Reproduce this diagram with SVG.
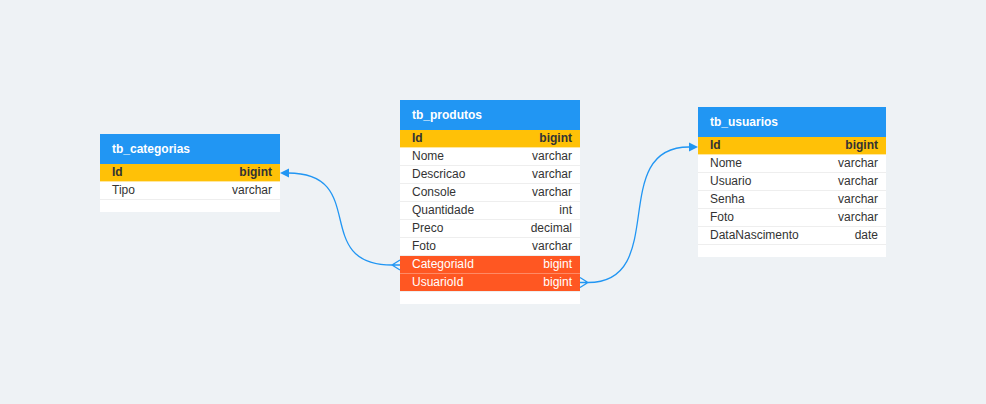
<svg xmlns="http://www.w3.org/2000/svg" width="986" height="404" viewBox="0 0 986 404">
<style>
text{font-family:"Liberation Sans",Arial,sans-serif;font-size:12px;}
.bg{fill:#EEF2F5;}
.body{fill:#FFFFFF;}
.hdr{fill:#2196F3;}
.htxt{fill:#FFFFFF;font-weight:bold;}
.pk{fill:#FFC107;}
.fk{fill:#FF5722;}
.t{fill:#333333;}
.pkt{fill:#333333;font-weight:bold;}
.fkt{fill:#FFFFFF;}
.r{text-anchor:end;}
.sep{stroke:#EEEEEE;stroke-width:1;}
.sepf{stroke:#FF8A65;stroke-width:1;}
.sepp{stroke:#FFE7A0;stroke-width:1;}
.conn{fill:none;stroke:#2196F3;stroke-width:1.3;}
.head{fill:#2196F3;}
</style>
<rect class="bg" x="0" y="0" width="986" height="404"/>

<g id="tb_categorias">
<rect class="body" x="100" y="164" width="180" height="48"/>
<rect class="hdr" x="100" y="134" width="180" height="30"/>
<text class="htxt" x="112" y="152.5">tb_categorias</text>
<rect class="pk" x="100" y="164" width="180" height="18"/>
<line class="sepp" x1="100" y1="181.5" x2="280" y2="181.5"/>
<text class="pkt" x="112" y="176">Id</text><text class="pkt r" x="272" y="176">bigint</text>
<line class="sep" x1="100" y1="199.5" x2="280" y2="199.5"/>
<text class="t" x="112" y="194">Tipo</text><text class="t r" x="272" y="194">varchar</text>
</g>

<g id="tb_produtos">
<rect class="body" x="400" y="130" width="180" height="174"/>
<rect class="hdr" x="400" y="100" width="180" height="30"/>
<text class="htxt" x="412" y="118.5">tb_produtos</text>
<rect class="pk" x="400" y="130" width="180" height="18"/>
<line class="sepp" x1="400" y1="147.5" x2="580" y2="147.5"/>
<text class="pkt" x="412" y="142">Id</text><text class="pkt r" x="572" y="142">bigint</text>
<line class="sep" x1="400" y1="165.5" x2="580" y2="165.5"/>
<text class="t" x="412" y="160">Nome</text><text class="t r" x="572" y="160">varchar</text>
<line class="sep" x1="400" y1="183.5" x2="580" y2="183.5"/>
<text class="t" x="412" y="178">Descricao</text><text class="t r" x="572" y="178">varchar</text>
<line class="sep" x1="400" y1="201.5" x2="580" y2="201.5"/>
<text class="t" x="412" y="196">Console</text><text class="t r" x="572" y="196">varchar</text>
<line class="sep" x1="400" y1="219.5" x2="580" y2="219.5"/>
<text class="t" x="412" y="214">Quantidade</text><text class="t r" x="572" y="214">int</text>
<line class="sep" x1="400" y1="237.5" x2="580" y2="237.5"/>
<text class="t" x="412" y="232">Preco</text><text class="t r" x="572" y="232">decimal</text>
<line class="sep" x1="400" y1="255.5" x2="580" y2="255.5"/>
<text class="t" x="412" y="250">Foto</text><text class="t r" x="572" y="250">varchar</text>
<rect class="fk" x="400" y="256" width="180" height="18"/>
<line class="sepf" x1="400" y1="273.5" x2="580" y2="273.5"/>
<text class="fkt" x="412" y="268">CategoriaId</text><text class="fkt r" x="572" y="268">bigint</text>
<rect class="fk" x="400" y="274" width="180" height="17"/>
<line class="sep" x1="400" y1="291.5" x2="580" y2="291.5"/>
<text class="fkt" x="412" y="286">UsuarioId</text><text class="fkt r" x="572" y="286">bigint</text>
</g>

<g id="tb_usuarios">
<rect class="body" x="698" y="137" width="188" height="120"/>
<rect class="hdr" x="698" y="107" width="188" height="30"/>
<text class="htxt" x="710" y="125.5">tb_usuarios</text>
<rect class="pk" x="698" y="137" width="188" height="18"/>
<line class="sepp" x1="698" y1="154.5" x2="886" y2="154.5"/>
<text class="pkt" x="710" y="149">Id</text><text class="pkt r" x="878" y="149">bigint</text>
<line class="sep" x1="698" y1="172.5" x2="886" y2="172.5"/>
<text class="t" x="710" y="167">Nome</text><text class="t r" x="878" y="167">varchar</text>
<line class="sep" x1="698" y1="190.5" x2="886" y2="190.5"/>
<text class="t" x="710" y="185">Usuario</text><text class="t r" x="878" y="185">varchar</text>
<line class="sep" x1="698" y1="208.5" x2="886" y2="208.5"/>
<text class="t" x="710" y="203">Senha</text><text class="t r" x="878" y="203">varchar</text>
<line class="sep" x1="698" y1="226.5" x2="886" y2="226.5"/>
<text class="t" x="710" y="221">Foto</text><text class="t r" x="878" y="221">varchar</text>
<line class="sep" x1="698" y1="244.5" x2="886" y2="244.5"/>
<text class="t" x="710" y="239">DataNascimento</text><text class="t r" x="878" y="239">date</text>
</g>

<g id="connectors">
<path class="conn" d="M288 173 C370 173 310 265 392 265"/>
<polygon class="head" points="280,173 289,168.5 289,177.5"/>
<path class="conn" d="M392 265 L400 260 M392 265 L400 265 M392 265 L400 270"/>
<path class="conn" d="M588 282.5 C670 282.5 607 147 689 147"/>
<polygon class="head" points="698,147 689,142.5 689,151.5"/>
<path class="conn" d="M588 282.5 L580 277.5 M588 282.5 L580 282.5 M588 282.5 L580 287.5"/>
</g>
</svg>
